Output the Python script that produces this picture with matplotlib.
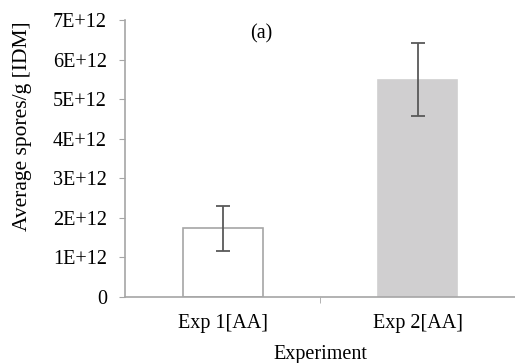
import numpy as np
import matplotlib.pyplot as plt

# ── DATA ──────────────────────────────────────────────────────
categories = ['Exp 1[AA]', 'Exp 2[AA]']
means = [1.73e12, 5.49e12]
errors = [0.56e12, 0.92e12]
yticks = [0, 1e12, 2e12, 3e12, 4e12, 5e12, 6e12, 7e12]
ytick_labels = ['0', '1E+12', '2E+12', '3E+12', '4E+12', '5E+12', '6E+12', '7E+12']

plt.rcParams['font.family'] = ['Liberation Serif', 'DejaVu Serif']
FS = 14.5

fig = plt.figure(figsize=(5.15, 3.63), dpi=100)
ax = fig.add_axes([0.243, 0.182, 0.757, 0.763])

x = np.arange(len(categories))
ax.bar(x, means, width=0.41, color=['white', '#D0CFD0'],
       edgecolor=['#A6A6A6', '#D0CFD0'], linewidth=1.2)
ax.errorbar(x, means, yerr=errors, fmt='none', ecolor='#595959',
            elinewidth=1.3, capsize=5, capthick=1.3)

ax.set_xlim(-0.5, 1.5)
ax.set_ylim(0, 7e12)
ax.set_yticks(yticks)
ax.set_yticklabels(ytick_labels, fontsize=FS)
ax.set_xticks(x)
ax.set_xticklabels(categories, fontsize=FS)
ax.set_xticks([0.5], minor=True)
ax.tick_params(axis='x', which='major', length=0, pad=12)
ax.tick_params(axis='x', which='minor', length=4, color='#A6A6A6')
ax.tick_params(axis='y', length=4, color='#A6A6A6', pad=9)

for s in ['top', 'right']:
    ax.spines[s].set_visible(False)
for s in ['left', 'bottom']:
    ax.spines[s].set_color('#A6A6A6')
    ax.spines[s].set_linewidth(1.2)

ax.set_ylabel('Average spores/g [IDM]', fontsize=15.5)
ax.yaxis.set_label_coords(-0.24, 0.617)
ax.set_xlabel('Experiment', fontsize=FS, labelpad=9)
ax.text(0.2, 6.65e12, '(a)', fontsize=FS, ha='center', va='center')

fig.savefig('out.png', dpi=100)
